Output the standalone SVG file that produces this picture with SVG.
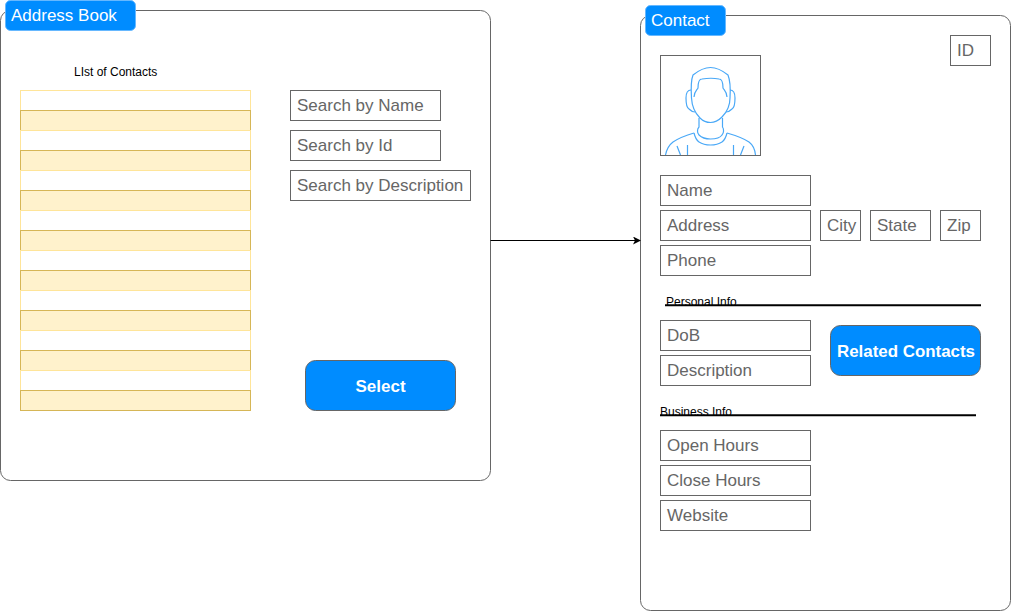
<svg xmlns="http://www.w3.org/2000/svg" width="1011" height="611" viewBox="0 0 1011 611">
<defs>
<marker id="arrow" markerWidth="8" markerHeight="8" refX="7" refY="4" orient="auto" markerUnits="userSpaceOnUse"><path d="M0 0L8 4L0 8L2 4Z" fill="#000"/></marker>
</defs>
<style>
text{font-family:"Liberation Sans",Arial,sans-serif}
.panel{fill:#fff;stroke:#666;stroke-width:1}
.tab{fill:#008cff;stroke:#66b8ff;stroke-width:1}
.tabt{fill:#fff;font-size:17px}
.f{fill:#fff;stroke:#666;stroke-width:1}
.ft{fill:#666;font-size:17px}
.r1{fill:#fff;stroke:#ffe599;stroke-width:1}
.r2{fill:#fff2cc;stroke:#d6b656;stroke-width:1}
.btn{fill:#008cff;stroke:#666;stroke-width:1}
.btnt{fill:#fff;font-size:17px;font-weight:bold;text-anchor:middle}
.sm{fill:#000;font-size:12px}
.rule{stroke:#000;stroke-width:2;fill:none}
.av{fill:none;stroke:#49a8f7;stroke-width:1.2}
</style>
<g id="address-book">
<rect class="panel" x="0.5" y="10.5" width="490" height="470" rx="10"/>
<rect class="tab" x="5.5" y="0.5" width="130" height="30" rx="5"/>
<text class="tabt" x="11" y="21">Address Book</text>
</g>
<g id="list-of-contacts">
<text class="sm" x="74" y="76">LIst of Contacts</text>
<rect class="r1" x="20.5" y="90.5" width="230" height="20"/>
<rect class="r2" x="20.5" y="110.5" width="230" height="20"/>
<rect class="r1" x="20.5" y="130.5" width="230" height="20"/>
<rect class="r2" x="20.5" y="150.5" width="230" height="20"/>
<rect class="r1" x="20.5" y="170.5" width="230" height="20"/>
<rect class="r2" x="20.5" y="190.5" width="230" height="20"/>
<rect class="r1" x="20.5" y="210.5" width="230" height="20"/>
<rect class="r2" x="20.5" y="230.5" width="230" height="20"/>
<rect class="r1" x="20.5" y="250.5" width="230" height="20"/>
<rect class="r2" x="20.5" y="270.5" width="230" height="20"/>
<rect class="r1" x="20.5" y="290.5" width="230" height="20"/>
<rect class="r2" x="20.5" y="310.5" width="230" height="20"/>
<rect class="r1" x="20.5" y="330.5" width="230" height="20"/>
<rect class="r2" x="20.5" y="350.5" width="230" height="20"/>
<rect class="r1" x="20.5" y="370.5" width="230" height="20"/>
<rect class="r2" x="20.5" y="390.5" width="230" height="20"/>
</g>
<g id="search-name"><rect class="f" x="290.5" y="90.5" width="150" height="30"/><text class="ft" x="297" y="111">Search by Name</text></g>
<g id="search-id"><rect class="f" x="290.5" y="130.5" width="150" height="30"/><text class="ft" x="297" y="151">Search by Id</text></g>
<g id="search-desc"><rect class="f" x="290.5" y="170.5" width="180" height="30"/><text class="ft" x="297" y="191">Search by Description</text></g>
<g id="select"><rect class="btn" x="305.5" y="360.5" width="150" height="50" rx="10"/><text class="btnt" x="380.5" y="392">Select</text></g>
<g id="contact">
<rect class="panel" x="640.5" y="15.5" width="370" height="595" rx="10"/>
<rect class="tab" x="645.5" y="5.5" width="80" height="30" rx="5"/>
<text class="tabt" x="651" y="26">Contact</text>
</g>
<g id="id-field"><rect class="f" x="950.5" y="35.5" width="40" height="30"/><text class="ft" x="957" y="56">ID</text></g>
<g id="avatar">
<rect class="f" x="660.5" y="55.5" width="100" height="100"/>
<path class="av" d="M691.500 98C691 90 691 80 693 75C698 71 704 67.500 710.500 67.500C717 67.500 723 71 728 75C730 80 730.500 90 730 98"/>
<path class="av" d="M694 97C694 92 697 90 698 88C698 82 699 79 702 79C708 78 714 78 719 79C722 79 723 82 723 88C724 90 727 92 727 97"/>
<path class="av" d="M691.500 98C692 108 695 113 700 118C703 121 707 122.500 710.500 122.500C715 122.500 719 120 722 117C726 113 730 106 730 98"/>
<path class="av" d="M691 90C688 90 686 93 686 98C686 104 687 108 689 109C691 111 693 112 695 112"/>
<path class="av" d="M730 90C733 90 735 93 735 98C735 104 734 108 732 109C730 111 728 112 726 112"/>
<path class="av" d="M699 118L699 127C697 129 697 133 699 135C702 138 706 139 710.500 139C715 139 720 138 722 135C724 133 724 129 722.500 127L722.500 118"/>
<path class="av" d="M694 133C695 137 696 140 699 142C702 144 706 145 710.500 145C715 145 719 144 722 142C725 140 726 137 727 133"/>
<path class="av" d="M694 133C687 135 679 138 673 142C669 145 666.500 150 665.500 155"/>
<path class="av" d="M727 133C734 135 743 138 749 142C753 145 755 150 755.500 155"/>
<path class="av" d="M677 146L680.500 155M687.500 145L687.500 155M733.500 145L733.500 155M744 146L740.500 155"/>
</g>
<g id="name"><rect class="f" x="660.500" y="175.500" width="150" height="30"/><text class="ft" x="667" y="196">Name</text></g>
<g id="address"><rect class="f" x="660.500" y="210.500" width="150" height="30"/><text class="ft" x="667" y="231">Address</text></g>
<g id="phone"><rect class="f" x="660.500" y="245.500" width="150" height="30"/><text class="ft" x="667" y="266">Phone</text></g>
<g id="city"><rect class="f" x="820.500" y="210.500" width="40" height="30"/><text class="ft" x="827" y="231">City</text></g>
<g id="state"><rect class="f" x="870.500" y="210.500" width="60" height="30"/><text class="ft" x="877" y="231">State</text></g>
<g id="zip"><rect class="f" x="940.500" y="210.500" width="40" height="30"/><text class="ft" x="947" y="231">Zip</text></g>
<g id="personal-info"><text class="sm" x="666" y="306">Personal Info</text><path class="rule" d="M665 305.300H981"/></g>
<g id="dob"><rect class="f" x="660.500" y="320.500" width="150" height="30"/><text class="ft" x="667" y="341">DoB</text></g>
<g id="description"><rect class="f" x="660.500" y="355.500" width="150" height="30"/><text class="ft" x="667" y="376">Description</text></g>
<g id="related"><rect class="btn" x="830.500" y="325.500" width="150" height="50" rx="10"/><text class="btnt" x="906" y="357" textLength="138" lengthAdjust="spacingAndGlyphs">Related Contacts</text></g>
<g id="business-info"><text class="sm" x="660" y="416">Business Info</text><path class="rule" d="M660 415.300H976"/></g>
<g id="open-hours"><rect class="f" x="660.500" y="430.500" width="150" height="30"/><text class="ft" x="667" y="451">Open Hours</text></g>
<g id="close-hours"><rect class="f" x="660.500" y="465.500" width="150" height="30"/><text class="ft" x="667" y="486">Close Hours</text></g>
<g id="website"><rect class="f" x="660.500" y="500.500" width="150" height="30"/><text class="ft" x="667" y="521">Website</text></g>
<g id="connectors"><path d="M490.500 240.500H640" fill="none" stroke="#000" stroke-width="1" marker-end="url(#arrow)"/></g>
</svg>
